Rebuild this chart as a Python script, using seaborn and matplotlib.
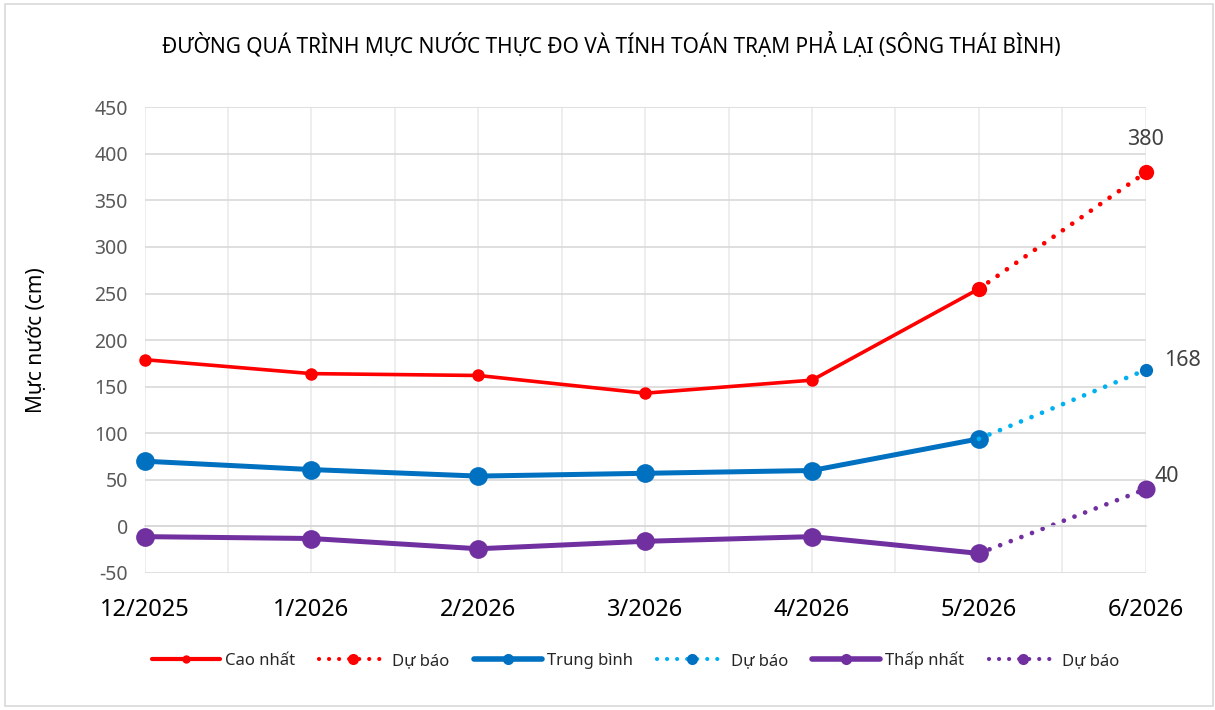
import numpy as np
import matplotlib
matplotlib.use('Agg')
import matplotlib.pyplot as plt
from matplotlib.lines import Line2D
from matplotlib.patches import Rectangle
import seaborn as sns

sns.set_style('white')
plt.rcParams['font.family'] = ['Noto Sans', 'DejaVu Sans']
plt.rcParams['axes.unicode_minus'] = False

# data
months = ['12/2025', '1/2026', '2/2026', '3/2026', '4/2026', '5/2026', '6/2026']
cao_nhat = [179, 164, 162, 143, 157, 255]
trung_binh = [70, 61, 54, 57, 60, 94]
thap_nhat = [-11, -13, -24, -16, -11, -29]
du_bao_cao = [255, 380]
du_bao_tb = [94, 168]
du_bao_thap = [-29, 40]

title = 'ĐƯỜNG QUÁ TRÌNH MỰC NƯỚC THỰC ĐO VÀ TÍNH TOÁN TRẠM PHẢ LẠI (SÔNG THÁI BÌNH)'

RED = '#FF0000'
BLUE = '#0070C0'
LBLUE = '#00B0F0'
PURPLE = '#7030A0'
GRID = '#D9D9D9'

x_obs = np.arange(len(cao_nhat))
x_fc = np.arange(len(cao_nhat) - 1, len(months))

fig = plt.figure(figsize=(12.15, 7.1), dpi=100)
ax = fig.add_axes([0.119, 0.193, 0.824, 0.656])

dot = (0, (0.01, 2.4))

# solid observed lines
sns.lineplot(x=x_obs, y=cao_nhat, ax=ax, color=RED, linewidth=2.6,
             marker='o', markersize=9, markeredgewidth=0, clip_on=False)
sns.lineplot(x=x_obs, y=trung_binh, ax=ax, color=BLUE, linewidth=3.6,
             marker='o', markersize=13.5, markeredgewidth=0, clip_on=False)
sns.lineplot(x=x_obs, y=thap_nhat, ax=ax, color=PURPLE, linewidth=3.6,
             marker='o', markersize=13.5, markeredgewidth=0, clip_on=False)

# dotted forecast lines
sns.lineplot(x=x_fc, y=du_bao_cao, ax=ax, color=RED, linewidth=3.4,
             linestyle=dot, dash_capstyle='round', clip_on=False)
sns.lineplot(x=x_fc, y=du_bao_tb, ax=ax, color=LBLUE, linewidth=3.4,
             linestyle=dot, dash_capstyle='round', clip_on=False)
sns.lineplot(x=x_fc, y=du_bao_thap, ax=ax, color=PURPLE, linewidth=3.4,
             linestyle=dot, dash_capstyle='round', clip_on=False)
ax.plot(x_fc, du_bao_cao, 'o', color=RED, markersize=11, markeredgewidth=0, clip_on=False)
ax.plot(x_fc[-1:], du_bao_tb[-1:], 'o', color=BLUE, markersize=9.5, markeredgewidth=0, clip_on=False)
ax.plot(x_fc[-1:], du_bao_thap[-1:], 'o', color=PURPLE, markersize=13, markeredgewidth=0, clip_on=False)

# data labels on the last forecast point
lab = dict(fontsize=15.5, color='#404040')
ax.annotate(str(du_bao_cao[-1]), (x_fc[-1], du_bao_cao[-1]), xytext=(0, 16),
            textcoords='offset points', ha='center', va='bottom', **lab)
ax.annotate(str(du_bao_tb[-1]), (x_fc[-1], du_bao_tb[-1]), xytext=(13, 7),
            textcoords='offset points', ha='left', va='center', **lab)
ax.annotate(str(du_bao_thap[-1]), (x_fc[-1], du_bao_thap[-1]), xytext=(6, 9),
            textcoords='offset points', ha='left', va='center', **lab)

# axes
ax.set_xlim(0, len(months) - 1)
ax.set_ylim(-50, 450)
ax.set_yticks(np.arange(-50, 451, 50))
ax.set_xticks(np.arange(len(months)))
ax.set_xticks(np.arange(0.5, len(months) - 1, 1), minor=True)
ax.grid(True, which='both', axis='x', color='#EBEBEB', linewidth=1.2)
ax.grid(True, which='major', axis='y', color=GRID, linewidth=1.2)
ax.set_axisbelow(True)
for s in ['top', 'right', 'left']:
    ax.spines[s].set_visible(False)
ax.spines['bottom'].set_position(('data', 0))
ax.spines['bottom'].set_color(GRID)
ax.spines['bottom'].set_linewidth(1.2)
ax.tick_params(axis='x', which='both', direction='out', length=5, color=GRID,
               labelbottom=False)
ax.tick_params(axis='y', length=0, labelsize=14, labelcolor='#595959', pad=12)

sec = ax.secondary_xaxis('bottom')
sec.set_xticks(np.arange(len(months)))
sec.set_xticklabels(months)
sec.tick_params(length=0, labelsize=17, labelcolor='#000000', pad=18)
sec.spines['bottom'].set_visible(False)

ax.set_ylabel('Mực nước (cm)', fontsize=15, color='#000000', labelpad=34)
fig.text(0.503, 0.937, title, ha='center', va='center', fontsize=15, color='#000000')

# legend
def h(c, ls, lw, mc, ms):
    return Line2D([], [], color=c, linestyle=ls, linewidth=lw, marker='o',
                  markerfacecolor=mc, markeredgewidth=0, markersize=ms,
                  dash_capstyle='round')

handles = [h(RED, '-', 3, RED, 6), h(RED, dot, 3, RED, 8),
           h(BLUE, '-', 4, BLUE, 8), h(LBLUE, dot, 3, BLUE, 8),
           h(PURPLE, '-', 4, PURPLE, 8), h(PURPLE, dot, 3, PURPLE, 8)]
labels = ['Cao nhất', 'Dự báo', 'Trung bình', 'Dự báo', 'Thấp nhất', 'Dự báo']
fig.legend(handles, labels, loc='center', bbox_to_anchor=(0.523, 0.07), ncol=6,
           frameon=False, fontsize=12, handlelength=4.1, handletextpad=0.3,
           columnspacing=1.45)

fig.patches.append(Rectangle((0.004, 0.006), 0.994, 0.988, transform=fig.transFigure,
                             fill=False, edgecolor=GRID, linewidth=1.2))

fig.savefig('out.png', dpi=100)
